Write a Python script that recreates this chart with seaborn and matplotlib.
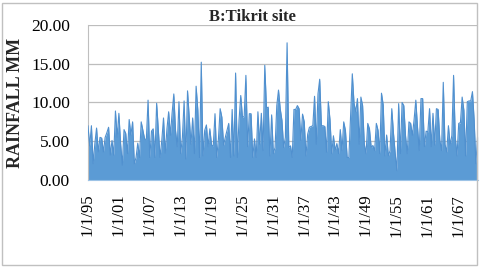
import matplotlib
matplotlib.use("Agg")
from matplotlib import pyplot as plt
from matplotlib.patches import Rectangle
from matplotlib.ticker import FuncFormatter, FixedLocator
import matplotlib.dates as mdates
import pandas as pd
import seaborn as sns

# rainfall values, left to right (1895 -> late 1970)
rain_1 = [7.0, 4.4, 7.0, 2.1, 4.7, 6.7, 3.6, 5.5, 5.4, 3.6, 5.5, 6.1, 6.8, 3.2,
          5.1, 3.2, 8.9, 5.5, 8.6, 4.7, 1.9, 6.5, 6.0, 3.4, 7.8, 5.8, 7.5, 2.1]
rain_2 = [2.9, 4.75, 2.9, 7.5, 6.4, 5.3, 5.2, 10.3, 2.9, 6.3, 6.6, 2.9, 9.9, 6.4,
          2.9, 5.1, 8.0, 3.45, 6.6, 8.8, 5.75, 8.6, 11.1, 6.4, 4.3, 10.1, 3.4,
          5.5, 10.2, 2.7, 11.5, 8.1, 4.6]
rain_3 = [8.0, 3.4, 12.1, 9.0, 2.9, 15.2, 3.1, 6.4, 7.1, 4.3, 6.6, 4.5, 4.4, 8.55,
          2.9, 5.3, 9.2, 8.1, 4.5, 5.5, 6.4, 7.3, 2.9, 9.1, 3.1, 13.8, 2.9, 7.7,
          10.9, 8.1, 8.2, 13.5, 4.3]
rain_4 = [8.55, 8.55, 2.9, 5.3, 2.9, 8.8, 4.6, 8.6, 3.8, 14.8, 9.3, 9.4, 3.1, 8.4,
          3.4, 4.2, 9.6, 11.6, 9.2, 7.7, 4.2, 5.5, 17.7, 4.2, 4.4, 2.9, 9.1, 9.1,
          9.6, 9.2, 5.1, 8.5]
rain_5 = [7.5, 3.1, 5.9, 6.8, 6.9, 7.0, 10.8, 4.6, 11.1, 13.0, 7.0, 7.0, 6.9, 3.6,
          10.1, 7.8, 3.4, 5.7, 3.8, 4.7, 3.4, 6.5, 3.8, 7.5, 6.4, 2.9, 2.9, 8.3,
          13.7, 9.9, 8.8, 10.5, 4.6, 10.7]
rain_6 = [9.6, 4.6, 3.4, 7.3, 6.6, 4.2, 4.45, 3.8, 7.3, 6.4, 3.4, 11.2, 9.7, 3.1,
          5.8, 3.1, 3.8, 9.2, 6.0, 3.4, 1.2, 9.85, 3.4, 10.0, 9.6, 5.75, 3.4, 7.5,
          7.3, 5.75, 7.8, 10.3, 6.8, 3.8, 10.5]
rain_7 = [10.5, 4.3, 6.3, 6.2, 9.2, 4.3, 8.6, 4.5, 9.2, 9.1, 5.1, 3.8, 12.6, 4.6,
          3.6, 7.0, 4.5, 5.75, 13.5, 5.5, 3.1, 7.3, 7.4, 10.7, 9.0, 3.1, 10.1,
          10.2, 10.2, 11.4, 7.7, 2.1, 5.7]
rain = rain_1 + rain_2 + rain_3 + rain_4 + rain_5 + rain_6 + rain_7

start_date = "1895-01-01"
end_date = "1970-10-01"
tick_years = list(range(1895, 1968, 6))
y_ticks = [0, 5, 10, 15, 20]

df = pd.DataFrame({
    "Date": pd.date_range(start_date, end_date, periods=len(rain)),
    "Rain": rain,
})

sns.set_theme(style="white")
plt.rcParams["font.family"] = ["Liberation Serif", "DejaVu Serif"]

fig = plt.figure(figsize=(4.8, 2.67), dpi=100)
ax = fig.add_axes([0.1833, 0.326, 0.8117, 0.5804])

blue = "#5b9bd5"
ax.fill_between(df.Date, 0, df.Rain, color=blue, lw=0, zorder=2)
sns.lineplot(x="Date", y="Rain", data=df, ax=ax, color="#5090cf", lw=0.8, zorder=3)

ax.set_xlim(pd.Timestamp(start_date), pd.Timestamp(end_date))
ax.set_ylim(0, 20)
ax.yaxis.set_major_locator(FixedLocator(y_ticks))
ax.yaxis.set_major_formatter(FuncFormatter(lambda v, p: "%.2f" % v))
ax.grid(axis="y", color="#bdbdbd", lw=0.9, zorder=1)
ax.set_axisbelow(True)

tick_dates = [mdates.date2num(pd.Timestamp(year=y, month=1, day=1)) for y in tick_years]
ax.xaxis.set_major_locator(FixedLocator(tick_dates))
ax.xaxis.set_major_formatter(FuncFormatter(
    lambda v, p: "{0.month}/{0.day}/{1:02d}".format(mdates.num2date(v), mdates.num2date(v).year % 100)))
for lab in ax.get_xticklabels():
    lab.set_rotation(90)

ax.tick_params(axis="y", labelsize=12.5, pad=13, length=0, colors="#000000")
ax.tick_params(axis="x", labelsize=12, pad=10, length=0, colors="#000000")

ax.set_xlabel("")
ax.set_ylabel("RAINFALL MM", fontsize=13, fontweight="bold")
ax.yaxis.set_label_coords(-0.165, 0.5)

for s in ["top", "right"]:
    ax.spines[s].set_visible(False)
ax.spines["left"].set_color("#bfbfbf")
ax.spines["left"].set_linewidth(0.8)
ax.spines["bottom"].set_color("#9dc3e6")
ax.spines["bottom"].set_linewidth(0.8)

fig.text(0.525, 0.935, "B:Tikrit site", ha="center", va="center",
         fontsize=12, fontweight="bold")

fig.patches.append(Rectangle((0.004, 0.006), 0.99, 0.983, transform=fig.transFigure,
                             fill=False, edgecolor="#c0c0c0", lw=1.0))

fig.savefig("out.png", dpi=100)
